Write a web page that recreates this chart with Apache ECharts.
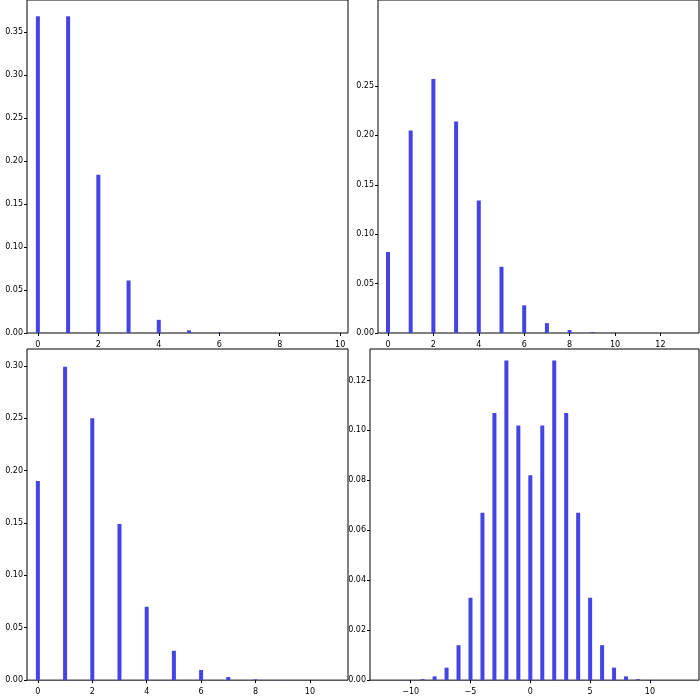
<!DOCTYPE html><html><head><script src="https://cdn.jsdelivr.net/npm/echarts@6/dist/echarts.min.js"></script></head><body style="margin:0"><div id="c" style="width:700px;height:700px"></div><script>
const x1=[0,1,2,3,4,5,6,7,8,9,10];
const y1=[0.368,0.368,0.184,0.061,0.0153,0.0031,0.0005,0.00007,0.00001,0,0];
const x2=[0,1,2,3,4,5,6,7,8,9,10,11,12];
const y2=[0.082,0.205,0.257,0.214,0.134,0.067,0.028,0.010,0.003,0.0009,0.0002,0.00005,0.00001];
const x3=[0,1,2,3,4,5,6,7,8,9,10];
const y3=[0.19,0.299,0.25,0.149,0.07,0.028,0.0097,0.003,0.0008,0.0002,0.00004];
const x4=[-10,-9,-8,-7,-6,-5,-4,-3,-2,-1,0,1,2,3,4,5,6,7,8,9,10];
const y4=[0.0001,0.0004,0.0015,0.005,0.014,0.033,0.067,0.107,0.128,0.102,0.082,0.102,0.128,0.107,0.067,0.033,0.014,0.005,0.0015,0.0004,0.0001];
const xt1=[0,2,4,6,8,10], xt2=[0,2,4,6,8,10,12], xt3=[0,2,4,6,8,10], xt4=[-10,-5,0,5,10];
const yt1=[0,0.05,0.1,0.15,0.2,0.25,0.3,0.35], yt2=[0,0.05,0.1,0.15,0.2,0.25], yt3=[0,0.05,0.1,0.15,0.2,0.25,0.3], yt4=[0,0.02,0.04,0.06,0.08,0.1,0.12];
const grids=[{left:27,top:0,width:321,height:333},{left:378,top:0,width:321,height:333},{left:27,top:349,width:321,height:335},{left:370,top:349,width:329,height:335}];
const xr=[[-0.36,10.26],[-0.44,13.7],[-0.4,11.4],[-13.4,14.1]];
const yr=[0.387,0.337,0.316,0.1326];
const xs=[x1,x2,x3,x4], ys=[y1,y2,y3,y4], xts=[xt1,xt2,xt3,xt4], yts=[yt1,yt2,yt3,yt4];
const lab={fontSize:8,color:'#000',fontFamily:'DejaVu Sans'};
const opt={animation:false,grid:grids.map(g=>Object.assign({show:true,borderColor:'#000',borderWidth:1,containLabel:false},g)),
xAxis:grids.map((g,i)=>({type:'value',gridIndex:i,min:xr[i][0],max:xr[i][1],splitLine:{show:false},axisLine:{show:false,onZero:false},
 axisTick:{show:true,customValues:xts[i],length:3,lineStyle:{color:'#000'}},axisLabel:Object.assign({customValues:xts[i],margin:4,formatter:v=>v<0?'\u2212'+(-v):String(v)},lab)})),
yAxis:grids.map((g,i)=>({type:'value',gridIndex:i,min:0,max:yr[i],splitLine:{show:false},axisLine:{show:false,onZero:false},
 axisTick:{show:true,customValues:yts[i],length:3,lineStyle:{color:'#000'}},axisLabel:Object.assign({customValues:yts[i],margin:4,formatter:v=>v.toFixed(2)},lab)})),
series:xs.map((x,i)=>({type:'bar',xAxisIndex:i,yAxisIndex:i,barWidth:4,itemStyle:{color:'#4444e4'},data:x.map((v,j)=>[v,ys[i][j]])}))};
echarts.init(document.getElementById('c')).setOption(opt);
</script></body></html>
